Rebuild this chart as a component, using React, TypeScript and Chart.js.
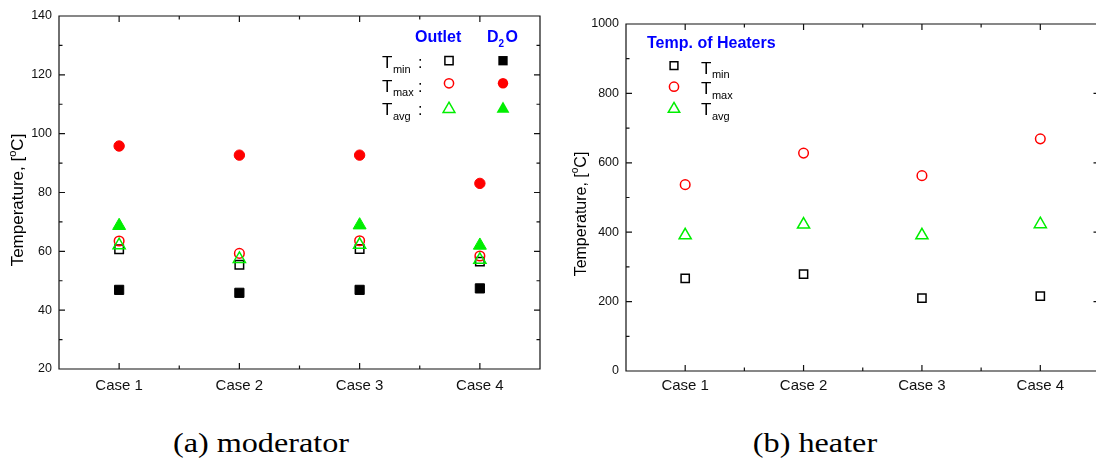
import React, { useEffect, useRef } from 'react';
import { Chart, registerables } from 'chart.js';

Chart.register(...registerables);

// ---------- data ----------
const categories = ['Case 1', 'Case 2', 'Case 3', 'Case 4'];

// (a) moderator
const outletTmin = [60.7, 55.4, 60.8, 56.5];
const outletTmax = [63.5, 59.3, 63.6, 58.4];
const outletTavg = [62.1, 57.4, 62.2, 57.1];
const d2oTmin = [46.9, 45.9, 46.9, 47.4];
const d2oTmax = [95.8, 92.7, 92.7, 83.1];
const d2oTavg = [68.7, null, 68.9, 62.0];
const moderatorTicks = [20, 40, 60, 80, 100, 120, 140];

// (b) heater
const heaterTmin = [267, 279, 210, 216];
const heaterTmax = [537, 628, 563, 669];
const heaterTavg = [391, 422, 391, 423];
const heaterTicks = [0, 200, 400, 600, 800, 1000];

const RED = '#ff0000';
const GREEN = '#00ee00';
const BLACK = '#000000';
const BLUE = '#0000ff';
const FONT = '"Liberation Sans", Arial, Helvetica, sans-serif';

type Shape = 'rect' | 'circle' | 'triangle';

function ds(label: string, data: (number | null)[], shape: Shape, color: string, filled: boolean, r: number) {
  return {
    label,
    data,
    showLine: false,
    pointStyle: shape,
    pointRadius: r,
    pointHoverRadius: r,
    pointBackgroundColor: filled ? color : 'rgba(0,0,0,0)',
    pointBorderColor: color,
    pointBorderWidth: filled ? 1 : 1.5,
    borderColor: color,
    backgroundColor: color,
  };
}

function marker(ctx: CanvasRenderingContext2D, shape: Shape, x: number, y: number, r: number, color: string, filled: boolean) {
  ctx.save();
  ctx.beginPath();
  if (shape === 'rect') {
    const s = r * Math.SQRT1_2;
    ctx.rect(x - s, y - s, 2 * s, 2 * s);
  } else if (shape === 'circle') {
    ctx.arc(x, y, r, 0, Math.PI * 2);
  } else {
    let rad = 0;
    ctx.moveTo(x + Math.sin(rad) * r, y - Math.cos(rad) * r);
    rad += (2 * Math.PI) / 3;
    ctx.lineTo(x + Math.sin(rad) * r, y - Math.cos(rad) * r);
    rad += (2 * Math.PI) / 3;
    ctx.lineTo(x + Math.sin(rad) * r, y - Math.cos(rad) * r);
    ctx.closePath();
  }
  if (filled) {
    ctx.fillStyle = color;
    ctx.fill();
  } else {
    ctx.strokeStyle = color;
    ctx.lineWidth = 1.5;
    ctx.stroke();
  }
  ctx.restore();
}

function tSub(ctx: CanvasRenderingContext2D, x: number, baseline: number, sub: string, size: number, subSize: number) {
  ctx.save();
  ctx.fillStyle = BLACK;
  ctx.textAlign = 'left';
  ctx.textBaseline = 'alphabetic';
  ctx.font = `${size}px ${FONT}`;
  ctx.fillText('T', x, baseline);
  const w = ctx.measureText('T').width;
  ctx.font = `${subSize}px ${FONT}`;
  ctx.fillText(sub, x + w + 0.5, baseline + 4.5);
  ctx.restore();
}

function yTitle(ctx: CanvasRenderingContext2D, cx: number, cy: number, size: number) {
  ctx.save();
  ctx.translate(cx, cy);
  ctx.rotate(-Math.PI / 2);
  ctx.fillStyle = BLACK;
  ctx.textAlign = 'left';
  ctx.textBaseline = 'alphabetic';
  const f = `${size}px ${FONT}`;
  const fs = `${Math.round(size * 0.62)}px ${FONT}`;
  ctx.font = f;
  const w1 = ctx.measureText('Temperature, [').width;
  const w3 = ctx.measureText('C]').width;
  ctx.font = fs;
  const w2 = ctx.measureText('o').width;
  let x = -(w1 + w2 + w3) / 2;
  const base = size * 0.25;
  ctx.font = f;
  ctx.fillText('Temperature, [', x, base);
  x += w1;
  ctx.font = fs;
  ctx.fillText('o', x, base - size * 0.45);
  x += w2;
  ctx.font = f;
  ctx.fillText('C]', x, base);
  ctx.restore();
}

function frameTicks(chart: any, minorStep: number) {
  const { ctx, chartArea: a, scales } = chart;
  const xs = scales.x;
  const ys = scales.y;
  ctx.save();
  ctx.strokeStyle = '#111';
  ctx.lineWidth = 1.2;
  ctx.beginPath();
  ctx.rect(a.left, a.top, a.right - a.left, a.bottom - a.top);
  const majorStep = (ys.ticks[1]?.value ?? 0) - (ys.ticks[0]?.value ?? 0);
  for (let v = ys.min; v <= ys.max + 1e-9; v += minorStep) {
    const isMajor = Math.abs(((v - ys.min) / majorStep) - Math.round((v - ys.min) / majorStep)) < 1e-6;
    const len = isMajor ? 6 : 3.5;
    const py = ys.getPixelForValue(v);
    ctx.moveTo(a.left, py);
    ctx.lineTo(a.left + len, py);
    ctx.moveTo(a.right, py);
    ctx.lineTo(a.right - len, py);
  }
  const n = categories.length;
  for (let i = 0; i < n; i++) {
    const px = xs.getPixelForValue(i);
    ctx.moveTo(px, a.bottom);
    ctx.lineTo(px, a.bottom - 6);
    ctx.moveTo(px, a.top);
    ctx.lineTo(px, a.top + 6);
    if (i < n - 1) {
      const pm = (px + xs.getPixelForValue(i + 1)) / 2;
      ctx.moveTo(pm, a.bottom);
      ctx.lineTo(pm, a.bottom - 3.5);
      ctx.moveTo(pm, a.top);
      ctx.lineTo(pm, a.top + 3.5);
    }
  }
  ctx.stroke();
  ctx.restore();
}

function buildConfig(opts: {
  datasets: any[];
  ticks: number[];
  yWidth: number;
  xHeight: number;
  padTop: number;
  padRight: number;
  xPad: number;
  minorStep: number;
  decorate: (ctx: CanvasRenderingContext2D) => void;
}) {
  return {
    type: 'line' as const,
    data: { labels: categories, datasets: opts.datasets },
    options: {
      animation: false as const,
      responsive: false,
      maintainAspectRatio: false,
      events: [],
      layout: { padding: { top: opts.padTop, right: opts.padRight, left: 0, bottom: 0 } },
      plugins: { legend: { display: false }, tooltip: { enabled: false }, title: { display: false } },
      scales: {
        x: {
          type: 'category' as const,
          offset: true,
          grid: { display: false, drawTicks: false },
          border: { display: false },
          ticks: { padding: opts.xPad, color: '#111', font: { family: FONT, size: 15 }, maxRotation: 0, autoSkip: false },
          afterFit: (s: any) => {
            s.height = opts.xHeight;
          },
        },
        y: {
          type: 'linear' as const,
          min: opts.ticks[0],
          max: opts.ticks[opts.ticks.length - 1],
          grid: { display: false, drawTicks: false },
          border: { display: false },
          ticks: {
            padding: 7,
            color: '#111',
            font: { family: FONT, size: 12.5 },
            callback: (v: any) => String(v),
          },
          afterBuildTicks: (s: any) => {
            s.ticks = opts.ticks.map((v) => ({ value: v }));
          },
          afterFit: (s: any) => {
            s.width = opts.yWidth;
          },
        },
      },
    },
    plugins: [
      {
        id: 'decor',
        afterDatasetsDraw(chart: any) {
          frameTicks(chart, opts.minorStep);
          opts.decorate(chart.ctx);
        },
      },
    ],
  };
}

const moderatorConfig = buildConfig({
  datasets: [
    ds('Outlet Tavg', outletTavg, 'triangle', GREEN, false, 7),
    ds('D2O Tavg', d2oTavg, 'triangle', GREEN, true, 7.5),
    ds('Outlet Tmax', outletTmax, 'circle', RED, false, 4.8),
    ds('D2O Tmax', d2oTmax, 'circle', RED, true, 5.2),
    ds('Outlet Tmin', outletTmin, 'rect', BLACK, false, 6),
    ds('D2O Tmin', d2oTmin, 'rect', BLACK, true, 6.5),
  ],
  ticks: moderatorTicks,
  yWidth: 59,
  xHeight: 31,
  padTop: 16,
  padRight: 10,
  xPad: 8,
  minorStep: 10,
  decorate: (ctx) => {
    yTitle(ctx, 19, 200, 17);
    ctx.save();
    ctx.fillStyle = BLUE;
    ctx.textBaseline = 'middle';
    ctx.textAlign = 'left';
    ctx.font = `bold 16px ${FONT}`;
    ctx.fillText('Outlet', 415, 37.5);
    let x = 487;
    ctx.fillText('D', x, 37.5);
    x += ctx.measureText('D').width;
    ctx.font = `bold 10px ${FONT}`;
    ctx.fillText('2', x, 44);
    x += ctx.measureText('2').width + 1.5;
    ctx.font = `bold 16px ${FONT}`;
    ctx.fillText('O', x, 37.5);
    const rows: [string, number][] = [
      ['min', 68],
      ['max', 91.5],
      ['avg', 115],
    ];
    rows.forEach(([sub, base]) => {
      tSub(ctx, 382, base, sub, 17, 11);
      ctx.fillStyle = BLACK;
      ctx.font = `16px ${FONT}`;
      ctx.textBaseline = 'alphabetic';
      ctx.fillText(':', 418, base);
    });
    marker(ctx, 'rect', 449, 60.7, 5.8, BLACK, false);
    marker(ctx, 'rect', 503, 60.7, 6.6, BLACK, true);
    marker(ctx, 'circle', 449, 83.3, 4.6, RED, false);
    marker(ctx, 'circle', 503, 83.3, 5.2, RED, true);
    marker(ctx, 'triangle', 449, 109, 6.8, GREEN, false);
    marker(ctx, 'triangle', 503, 109, 7.4, GREEN, true);
    ctx.restore();
  },
});

const OFFSET_B = 548;

const heaterConfig = buildConfig({
  datasets: [
    ds('Tavg', heaterTavg, 'triangle', GREEN, false, 7),
    ds('Tmax', heaterTmax, 'circle', RED, false, 4.8),
    ds('Tmin', heaterTmin, 'rect', BLACK, false, 5.8),
  ],
  ticks: heaterTicks,
  yWidth: 626 - OFFSET_B,
  xHeight: 29,
  padTop: 24,
  padRight: 8,
  xPad: 6,
  minorStep: 100,
  decorate: (ctx) => {
    yTitle(ctx, 581.5 - OFFSET_B, 214, 16);
    ctx.save();
    ctx.fillStyle = BLUE;
    ctx.textBaseline = 'middle';
    ctx.textAlign = 'left';
    ctx.font = `bold 16px ${FONT}`;
    ctx.fillText('Temp. of Heaters', 647 - OFFSET_B, 43.5);
    const lx = 701 - OFFSET_B;
    tSub(ctx, lx, 73.7, 'min', 17, 11);
    tSub(ctx, lx, 94, 'max', 17, 11);
    tSub(ctx, lx, 115, 'avg', 17, 11);
    const mx = 674 - OFFSET_B;
    marker(ctx, 'rect', mx, 65.7, 5.5, BLACK, false);
    marker(ctx, 'circle', mx, 86.7, 4.6, RED, false);
    marker(ctx, 'triangle', mx, 109, 6.6, GREEN, false);
    ctx.restore();
  },
});

function caption(cx: number): React.CSSProperties {
  return {
    position: 'absolute',
    left: cx - 200,
    width: 400,
    top: 429,
    textAlign: 'center',
    fontFamily: '"Liberation Serif", "Times New Roman", Times, serif',
    fontSize: 28,
    lineHeight: '28px',
    color: '#000',
    whiteSpace: 'nowrap',
    transform: 'scaleX(1.15)',
    transformOrigin: 'center',
  };
}

export default function App() {
  const refA = useRef<HTMLCanvasElement>(null);
  const refB = useRef<HTMLCanvasElement>(null);

  useEffect(() => {
    const a = new Chart(refA.current as HTMLCanvasElement, moderatorConfig as any);
    const b = new Chart(refB.current as HTMLCanvasElement, heaterConfig as any);
    return () => {
      a.destroy();
      b.destroy();
    };
  }, []);

  return (
    <div
      style={{
        position: 'fixed',
        left: 0,
        top: 0,
        width: 1096,
        height: 461,
        overflow: 'hidden',
        background: '#fff',
      }}
    >
      <canvas ref={refA} width={550} height={400} style={{ position: 'absolute', left: 0, top: 0, width: 550, height: 400 }} />
      <canvas
        ref={refB}
        width={560}
        height={400}
        style={{ position: 'absolute', left: OFFSET_B, top: 0, width: 560, height: 400 }}
      />
      <div style={caption(261)}>(a) moderator</div>
      <div style={caption(815)}>(b) heater</div>
    </div>
  );
}
